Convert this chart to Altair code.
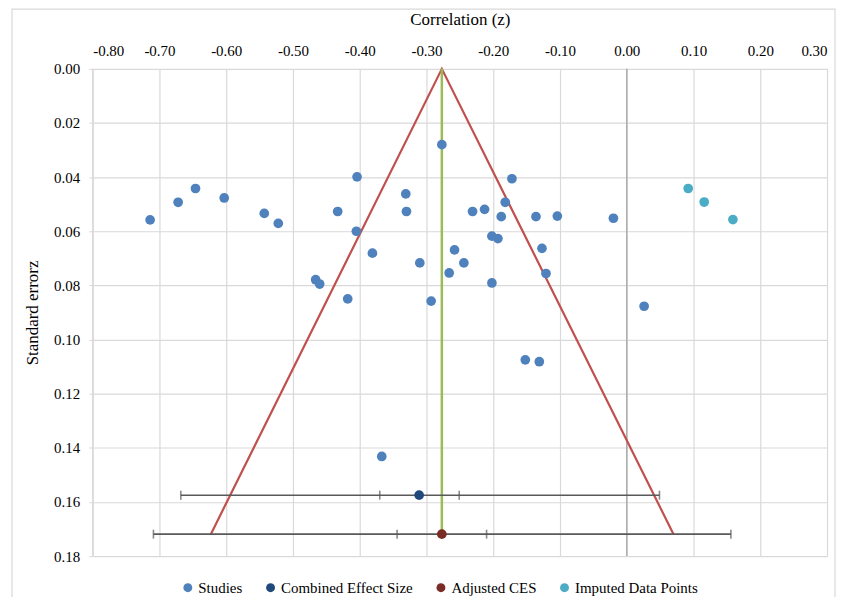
import altair as alt
import pandas as pd

# ---- data ----
study_x = [-0.714, -0.672, -0.646, -0.603, -0.543, -0.522, -0.433, -0.404, -0.405, -0.381,
           -0.466, -0.460, -0.418, -0.331, -0.330, -0.277, -0.310, -0.172, -0.182, -0.231,
           -0.213, -0.188, -0.136, -0.104, -0.020, -0.202, -0.193, -0.127, -0.258, -0.244,
           -0.266, -0.121, -0.202, -0.293, 0.026, -0.152, -0.131, -0.367]
study_y = [0.0558, 0.0493, 0.0442, 0.0477, 0.0534, 0.0571, 0.0527, 0.0399, 0.0600, 0.0681,
           0.0779, 0.0795, 0.0850, 0.0462, 0.0527, 0.0280, 0.0717, 0.0406, 0.0493, 0.0527,
           0.0519, 0.0546, 0.0546, 0.0544, 0.0552, 0.0618, 0.0627, 0.0663, 0.0669, 0.0717,
           0.0754, 0.0756, 0.0791, 0.0858, 0.0877, 0.1075, 0.1082, 0.1432]
imputed_x = [0.092, 0.116, 0.159]
imputed_y = [0.0442, 0.0492, 0.0557]

combined_x, combined_y = -0.311, 0.1575
combined_ci = [-0.370, -0.251]
combined_pi = [-0.668, 0.049]
adjusted_x, adjusted_y = -0.277, 0.1719
adjusted_ci = [-0.344, -0.210]
adjusted_pi = [-0.709, 0.156]

funnel_x = [-0.623, -0.277, 0.070]
funnel_y = [0.1719, 0.0, 0.1719]

x_ticks = [-0.8, -0.7, -0.6, -0.5, -0.4, -0.3, -0.2, -0.1, 0.0, 0.1, 0.2, 0.3]
y_ticks = [0.0, 0.02, 0.04, 0.06, 0.08, 0.10, 0.12, 0.14, 0.16, 0.18]

series_names = ["Studies", "Combined Effect Size", "Adjusted CES", "Imputed Data Points"]
series_colors = ["#4F81BD", "#1F497D", "#7B2C27", "#4BACC6"]

FONT = "Times New Roman, Liberation Serif, serif"
W, H = 737, 489

# ---- tables ----
points = pd.DataFrame(
    {"x": study_x, "y": study_y, "series": ["Studies"] * len(study_x)}
)
points = pd.concat([
    points,
    pd.DataFrame({"x": imputed_x, "y": imputed_y, "series": ["Imputed Data Points"] * 3}),
    pd.DataFrame({"x": [combined_x, adjusted_x], "y": [combined_y, adjusted_y],
                  "series": ["Combined Effect Size", "Adjusted CES"]}),
], ignore_index=True)

bars = pd.DataFrame({
    "lo": [combined_pi[0], adjusted_pi[0]],
    "hi": [combined_pi[1], adjusted_pi[1]],
    "y": [combined_y, adjusted_y],
})
caps = pd.DataFrame({
    "x": [combined_pi[0], combined_ci[0], combined_ci[1], combined_pi[1],
          adjusted_pi[0], adjusted_ci[0], adjusted_ci[1], adjusted_pi[1]],
    "y": [combined_y] * 4 + [adjusted_y] * 4,
})
funnel = pd.DataFrame({"x": funnel_x, "y": funnel_y, "o": list(range(len(funnel_x)))})
center = pd.DataFrame({"x": [adjusted_x], "y": [0.0], "y2": [adjusted_y]})
zero = pd.DataFrame({"x": [0.0]})

xscale = alt.Scale(domain=[-0.8, 0.3], nice=False, zero=False)
yscale = alt.Scale(domain=[0, 0.18], nice=False, zero=False, reverse=True)

xaxis = alt.Axis(
    orient="top", values=x_ticks, title="Correlation (z)",
    labelExpr="replace(format(datum.value, '.2f'), '\u2212', '-')",
    labelFont=FONT, labelFontSize=15, labelColor="#000000", labelPadding=10,
    titleFont=FONT, titleFontSize=17, titleFontWeight="normal", titleColor="#000000",
    titlePadding=16, ticks=False, domain=False,
    grid=True, gridColor="#D9D9D9", gridWidth=1.2,
)
yaxis = alt.Axis(
    values=y_ticks, title="Standard errorz", format=".2f",
    labelFont=FONT, labelFontSize=15, labelColor="#000000", labelPadding=9,
    titleFont=FONT, titleFontSize=17, titleFontWeight="normal", titleColor="#000000",
    titlePadding=12, tickSize=4, tickColor="#D9D9D9", domain=False,
    grid=True, gridColor="#D9D9D9", gridWidth=1.2,
)

base_grid = alt.Chart(zero).mark_rule(color="#A6A6A6", strokeWidth=1.3).encode(
    x=alt.X("x:Q", scale=xscale, axis=xaxis),
    y=alt.value(0), y2=alt.value(H),
)
left_edge = alt.Chart(zero).mark_rule(color="#D9D9D9", strokeWidth=1.2).encode(
    x=alt.value(0), y=alt.Y("x:Q", scale=yscale, axis=yaxis), y2=alt.value(H),
)

funnel_line = alt.Chart(funnel).mark_line(color="#C0504D", strokeWidth=2.2).encode(
    x=alt.X("x:Q", scale=xscale), y=alt.Y("y:Q", scale=yscale), order="o:Q"
)
center_line = alt.Chart(center).mark_rule(color="#9BBB59", strokeWidth=2.5).encode(
    x=alt.X("x:Q", scale=xscale), y=alt.Y("y:Q", scale=yscale), y2="y2:Q"
)
bar_rules = alt.Chart(bars).mark_rule(color="#595959", strokeWidth=1.6).encode(
    x=alt.X("lo:Q", scale=xscale), x2="hi:Q", y=alt.Y("y:Q", scale=yscale)
)
cap_ticks = alt.Chart(caps).mark_tick(color="#595959", thickness=1.6, size=9, orient="vertical").encode(
    x=alt.X("x:Q", scale=xscale), y=alt.Y("y:Q", scale=yscale)
)
pts = alt.Chart(points).mark_point(filled=True, opacity=1, size=95, shape="circle").encode(
    x=alt.X("x:Q", scale=xscale),
    y=alt.Y("y:Q", scale=yscale),
    color=alt.Color(
        "series:N",
        scale=alt.Scale(domain=series_names, range=series_colors),
        legend=alt.Legend(
            title=None, orient="none", direction="horizontal",
            legendX=88, legendY=513,
            labelFont=FONT, labelFontSize=15, labelColor="#000000",
            symbolType="circle", symbolSize=80, columnPadding=20, labelOffset=3,
        ),
    ),
)
frame = alt.Chart(zero).mark_rect(fill="transparent", stroke="#D9D9D9", strokeWidth=1.2).encode(
    x=alt.value(-81), x2=alt.value(745), y=alt.value(-60), y2=alt.value(536)
)

chart = alt.layer(
    frame, left_edge, base_grid, funnel_line, center_line, bar_rules, cap_ticks, pts
).properties(
    width=W, height=H,
    autosize=alt.AutoSizeParams(type="none"),
    padding={"left": 85, "top": 60, "right": 10, "bottom": 40},
    background="#FFFFFF",
).configure(font=FONT).configure_view(stroke=None)

chart.save("out.html", embed_options={"renderer": "svg", "actions": False})
